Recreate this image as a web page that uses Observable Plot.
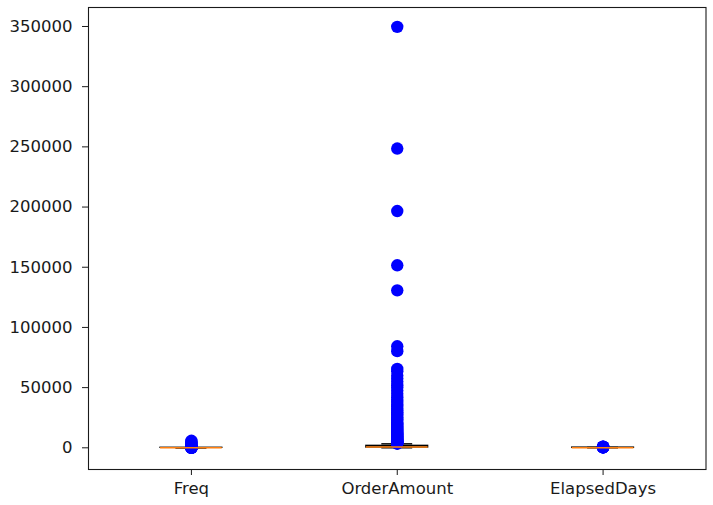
<!DOCTYPE html>
<html>
<head>
<meta charset="utf-8">
<script src="https://cdn.jsdelivr.net/npm/d3@7"></script>
<script src="https://cdn.jsdelivr.net/npm/@observablehq/plot@0.6"></script>
<style>
  html, body { margin: 0; padding: 0; background: #fff; }
  #chart svg { display: block; }
</style>
</head>
<body>
<div id="chart"></div>
<script>
// ---- data ----
const categories = ["Freq", "OrderAmount", "ElapsedDays"];
// box statistics per category
const whiskerLow  = [1, 0, 0];
const q1          = [1, 250, 20];
const median      = [2, 600, 50];
const q3          = [5, 1600, 140];
const whiskerHigh = [11, 3300, 320];

const freqOutliers = [12, 20, 35, 60, 100, 160, 250, 400, 600, 900, 1300, 1800, 2500, 3300, 4200, 5100, 5800];
const orderAmountOutliers = [349700, 248600, 196700, 151600, 130800, 84300, 80300,
  65500, 63500, 60000, 57500, 55000, 52000, 50000, 47500, 45000, 42000, 40000, 38000,
  36000, 34000, 32500, 31000, 29500, 28000, 26500, 25000, 23800, 22500, 21000, 20000,
  19000, 18000, 17000, 16000, 15200, 14400, 13600, 12800, 12000, 11300, 10600, 10000,
  9400, 8800, 8200, 7700, 7200, 6700, 6300, 5900, 5500, 5100, 4800, 4500, 4200, 3900, 3600, 3400];
const elapsedDaysOutliers = [330, 360, 400, 450, 500, 560, 620, 700, 800, 900, 1000];

const yTicks = [0, 50000, 100000, 150000, 200000, 250000, 300000, 350000];

// ---- build tables ----
const boxes = categories.map((c, i) => ({
  cat: c, pos: i + 1,
  lo: whiskerLow[i], q1: q1[i], med: median[i], q3: q3[i], hi: whiskerHigh[i]
}));
const outlierLists = [freqOutliers, orderAmountOutliers, elapsedDaysOutliers];
const outliers = outlierLists.flatMap((arr, i) => arr.map(v => ({pos: i + 1, value: v})));

const halfBox = 0.15, halfCap = 0.075;

const chart = Plot.plot({
  width: 713,
  height: 505,
  marginLeft: 88,
  marginRight: 7.5,
  marginTop: 7,
  marginBottom: 36,
  style: {fontFamily: "DejaVu Sans", fontSize: "16.5px", color: "#1a1a1a", background: "white"},
  x: {type: "linear", domain: [0.5, 3.5]},
  y: {type: "linear", domain: [-18030, 365780]},
  marks: [
    Plot.axisX({ticks: [1, 2, 3], tickFormat: d => categories[d - 1], tickSize: 6, tickPadding: 7, label: null, fontSize: 16.5}),
    Plot.axisY({ticks: yTicks, tickFormat: d => String(d), tickSize: 6, tickPadding: 10, label: null, fontSize: 16.5}),
    // whiskers
    Plot.ruleX(boxes, {x: "pos", y1: "lo", y2: "q1", stroke: "black", strokeWidth: 1.4}),
    Plot.ruleX(boxes, {x: "pos", y1: "q3", y2: "hi", stroke: "black", strokeWidth: 1.4}),
    // caps
    Plot.ruleY(boxes, {y: "lo", x1: d => d.pos - halfCap, x2: d => d.pos + halfCap, stroke: "black", strokeWidth: 1.4}),
    Plot.ruleY(boxes, {y: "hi", x1: d => d.pos - halfCap, x2: d => d.pos + halfCap, stroke: "black", strokeWidth: 1.4}),
    // boxes
    Plot.rect(boxes, {x1: d => d.pos - halfBox, x2: d => d.pos + halfBox, y1: "q1", y2: "q3", fill: "none", stroke: "black", strokeWidth: 1.4}),
    // fliers
    Plot.dot(outliers, {x: "pos", y: "value", r: 6.2, fill: "#0000ff", stroke: "none"}),
    // medians
    Plot.ruleY(boxes, {y: "med", x1: d => d.pos - halfBox, x2: d => d.pos + halfBox, stroke: "#ff7f0e", strokeWidth: 1.6}),
    Plot.frame({stroke: "#1a1a1a", strokeWidth: 1.1})
  ]
});
document.getElementById("chart").appendChild(chart);
</script>
</body>
</html>
